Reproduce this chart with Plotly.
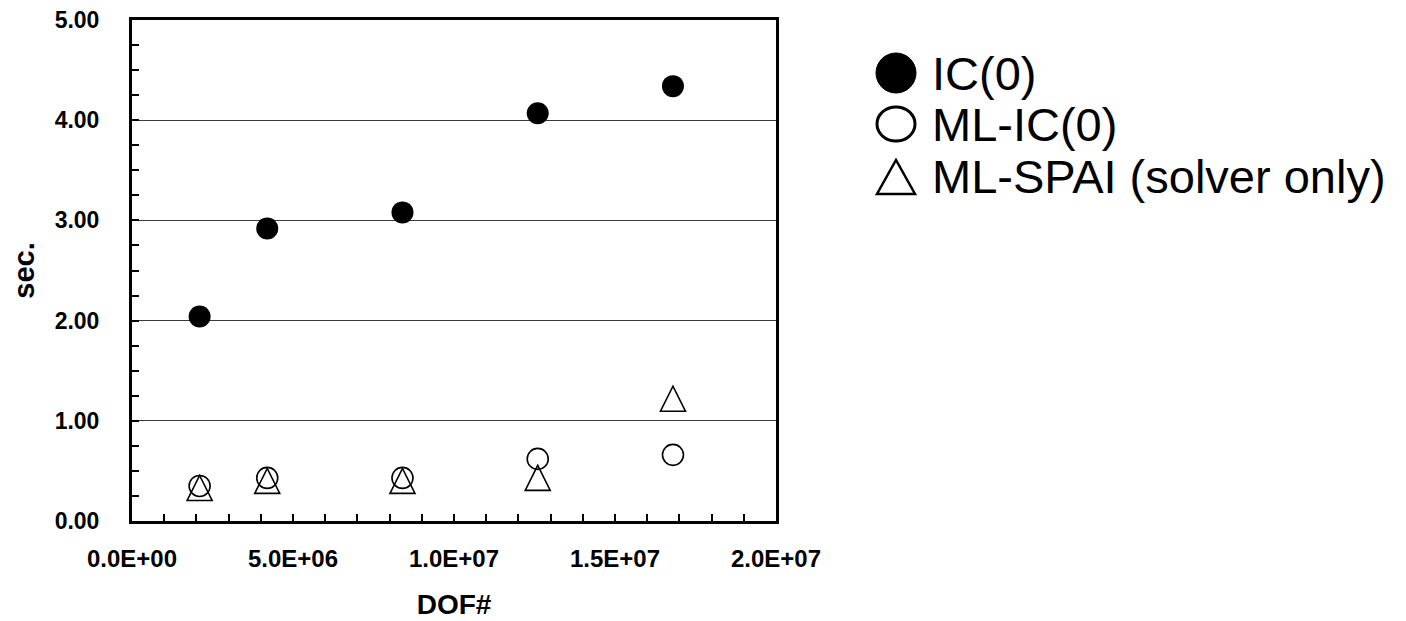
import plotly.graph_objects as go

# ---- data ----
dof = [2.1e6, 4.2e6, 8.4e6, 12.6e6, 16.8e6]
ic0 = [2.04, 2.92, 3.08, 4.07, 4.34]
ml_ic0 = [0.35, 0.43, 0.43, 0.62, 0.66]
ml_spai = [0.33, 0.40, 0.40, 0.43, 1.22]
series_names = ["IC(0)", "ML-IC(0)", "ML-SPAI (solver only)"]
x_tickvals = [0, 5e6, 1e7, 1.5e7, 2e7]
x_ticktext = ["0.0E+00", "5.0E+06", "1.0E+07", "1.5E+07", "2.0E+07"]
y_tickvals = [0, 1, 2, 3, 4, 5]
y_ticktext = ["0.00", "1.00", "2.00", "3.00", "4.00", "5.00"]

W, H = 1406, 621
L, R, T, B = 132, 776, 20, 521

fig = go.Figure()
fig.add_trace(go.Scatter(x=dof, y=ic0, mode="markers", name=series_names[0],
                         marker=dict(symbol="circle", size=22, color="black"),
                         showlegend=False))
fig.add_trace(go.Scatter(x=dof, y=ml_ic0, mode="markers", name=series_names[1],
                         marker=dict(symbol="circle-open", size=21, color="black",
                                     line=dict(width=1.6, color="black")),
                         showlegend=False))
# transparent trace carrying the ML-SPAI data; visible triangles drawn as pixel-sized shapes
fig.add_trace(go.Scatter(x=dof, y=ml_spai, mode="markers", name=series_names[2],
                         marker=dict(symbol="triangle-up-open", size=1, color="rgba(0,0,0,0)"),
                         showlegend=False))

TRI = "M -12.5,-12.5 L 12.5,-12.5 L 0,12.5 Z"
shapes = []
for xv, yv in zip(dof, ml_spai):
    shapes.append(dict(type="path", xref="x", yref="y",
                       xsizemode="pixel", ysizemode="pixel",
                       xanchor=xv, yanchor=yv, path=TRI,
                       line=dict(color="black", width=1.6),
                       fillcolor="rgba(0,0,0,0)", layer="above"))

# ---- legend (drawn manually, symbols as pixel-sized shapes) ----
rows_y = [73, 124, 177]
sym_x = (896 - L) / (R - L)
txt_x = (930 - L) / (R - L)
legend_syms = [
    dict(type="circle", x0=-20, x1=20, y0=-20, y1=20,
         fillcolor="black", line=dict(color="black", width=1)),
    dict(type="circle", x0=-19, x1=19, y0=-17, y1=17,
         fillcolor="rgba(0,0,0,0)", line=dict(color="black", width=3)),
    dict(type="path", path="M -19,-17 L 19,-17 L 0,17 Z",
         fillcolor="rgba(0,0,0,0)", line=dict(color="black", width=2.5)),
]
for sym, yy in zip(legend_syms, rows_y):
    s = dict(xref="paper", yref="paper", xsizemode="pixel", ysizemode="pixel",
             xanchor=sym_x, yanchor=(B - yy) / (B - T), layer="above")
    s.update(sym)
    shapes.append(s)

FONT = "Liberation Sans, Arial"
xtickfont = dict(family=FONT, size=24, color="black", weight="bold")
ytickfont = dict(family=FONT, size=23, color="black", weight="bold")

fig.update_layout(
    width=W, height=H,
    margin=dict(l=L, r=W - R, t=T, b=H - B),
    paper_bgcolor="white", plot_bgcolor="white",
    showlegend=False,
    shapes=shapes,
    xaxis=dict(range=[0, 2e7], tickvals=x_tickvals, ticktext=x_ticktext,
               ticks="inside", ticklen=7, tickwidth=2, tickcolor="black",
               minor=dict(dtick=1e6, ticks="inside", ticklen=7, tickwidth=2, tickcolor="black"),
               showline=True, linecolor="black", linewidth=3, mirror=True,
               showgrid=False, zeroline=False, tickfont=xtickfont,
               ticklabelstandoff=14, automargin=False,
               title=dict(text="DOF#", font=dict(family=FONT, size=28, color="black", weight="bold"),
                          standoff=24)),
    yaxis=dict(range=[0, 5], tickvals=y_tickvals, ticktext=y_ticktext,
               ticks="inside", ticklen=7, tickwidth=2, tickcolor="black",
               minor=dict(dtick=0.25, ticks="inside", ticklen=7, tickwidth=2, tickcolor="black"),
               showline=True, linecolor="black", linewidth=3, mirror=True,
               showgrid=True, gridcolor="#3a3a3a", gridwidth=1,
               zeroline=False, tickfont=ytickfont,
               ticklabelstandoff=25, automargin=False,
               title=dict(text="sec.", font=dict(family=FONT, size=29, color="black", weight="bold"),
                          standoff=12)),
)

for name, yy in zip(series_names, rows_y):
    fig.add_annotation(xref="paper", yref="paper", x=txt_x, y=(B - yy) / (B - T),
                       text=name, showarrow=False, xanchor="left", yanchor="middle",
                       font=dict(family=FONT, size=47, color="black"))

fig.write_html("out.html")
